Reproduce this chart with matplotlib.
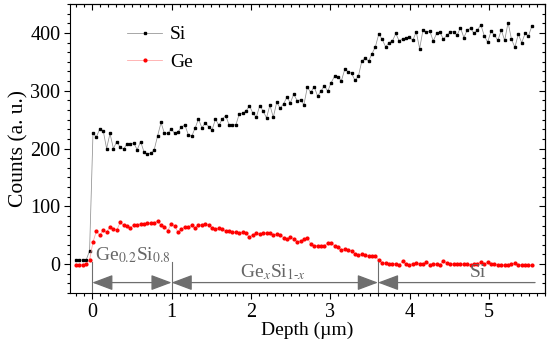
import numpy as np
import matplotlib.pyplot as plt
from matplotlib.ticker import MultipleLocator

plt.rcParams['font.family'] = ['Liberation Serif', 'DejaVu Serif']
plt.rcParams['mathtext.fontset'] = 'stix'

# depth profile, regular sampling of the measurement
depth = np.linspace(-0.205, 5.54, 135)

si_counts = [7, 7, 7, 7, 23,
             226, 220, 234, 231, 200, 226, 200, 212, 202, 199, 208, 208, 209, 198, 212, 194,
             190, 192, 198, 222, 245, 226, 226, 234, 226, 229, 237, 241, 224, 221, 235, 251,
             236, 244, 238, 232, 251, 240, 251, 257, 241, 241, 241, 260, 261, 265, 274, 261,
             254, 274, 265, 253, 275, 254, 280, 270, 277, 289, 279, 294, 283, 284, 276, 306,
             297, 307, 291, 299, 309, 299, 314, 325, 324, 317, 337, 333, 330, 318, 325, 351,
             357, 351, 364, 376, 398, 389, 376, 383, 386, 399, 386, 390, 391, 393, 387, 402,
             373, 405, 402, 403, 386, 399, 401, 389, 396, 402, 402, 396, 409, 392, 405, 408,
             399, 405, 414, 395, 384, 403, 396, 387, 405, 387, 418, 389, 375, 398, 383, 399,
             395, 412]

ge_counts = [-1, -1, -1, 0, 7,
             38, 57, 50, 59, 55, 65, 61, 59, 72, 67, 66, 63, 68, 68, 70, 70, 71, 71, 71, 75,
             67, 65, 58, 70, 66, 55, 60, 65, 65, 67, 62, 68, 68, 70, 67, 63, 61, 62, 60, 57,
             58, 55, 55, 53, 56, 53, 47, 51, 53, 52, 54, 54, 53, 50, 52, 50, 46, 43, 47, 44,
             39, 40, 43, 46,
             34.5, 32, 32, 32, 31, 37, 36, 32, 29, 24, 26.5, 24, 23, 18, 16, 17, 15, 14, 14, 14,
             7, 2, 2, 1, 1, 1, -2, 5, 0, -1, 1, 2, 1, 0, 3.5, -1, 1, 0, -1, 6, 2, 1, 0,
             0, 0, 0, 0, -1, 0, 1, 3.5, 0, 3.5, 0, 0, -1, -2, -1, -1, 0, 2, -1, -1, -2, -2, -2]

# layer boundaries (um) and their labels
boundaries = [0, 1, 3.6]
scan_end = 5.58
layer_labels = ['Ge$_{0.2}$Si$_{0.8}$', 'Ge$_x$Si$_{1\u2010x}$', 'Si']

fig = plt.figure(figsize=(5.5, 3.44), dpi=100)
ax = fig.add_axes([0.1273, 0.1483, 0.8636, 0.840])

ax.plot(depth, si_counts, '-', color='#909090', lw=0.55, marker='s', ms=1.8,
        mfc='black', mec='black', label='Si')
ax.plot(depth, ge_counts, '-', color='#ffa0a0', lw=0.55, marker='o', ms=2.0,
        mfc='red', mec='red', label='Ge')

ax.set_xlim(-0.28, 5.705)
ax.set_ylim(-50, 450)
ax.xaxis.set_major_locator(MultipleLocator(1))
ax.xaxis.set_minor_locator(MultipleLocator(0.1))
ax.yaxis.set_major_locator(MultipleLocator(100))
ax.yaxis.set_minor_locator(MultipleLocator(100 / 6))
ax.tick_params(which='both', direction='out', labelsize=14.5, width=0.8, pad=2.5)
ax.tick_params(which='major', length=4.5)
ax.tick_params(which='minor', length=2.5)

# mirrored ticks pointing inward on top and right
top = ax.secondary_xaxis('top')
top.xaxis.set_major_locator(MultipleLocator(1))
top.xaxis.set_minor_locator(MultipleLocator(0.1))
top.tick_params(which='both', direction='in', labeltop=False, width=0.8)
top.tick_params(which='major', length=4.5)
top.tick_params(which='minor', length=2.5)
right = ax.secondary_yaxis('right')
right.yaxis.set_major_locator(MultipleLocator(100))
right.yaxis.set_minor_locator(MultipleLocator(100 / 6))
right.tick_params(which='both', direction='in', labelright=False, width=0.8)
right.tick_params(which='major', length=4.5)
right.tick_params(which='minor', length=2.5)

ax.set_xlabel('Depth (\u00b5m)', fontsize=14, labelpad=0)
ax.set_ylabel('Counts (a. u.)', fontsize=15.5, labelpad=1)

ax.legend(loc='upper left', bbox_to_anchor=(0.12, 0.925), frameon=False, fontsize=14,
          handlelength=1.8, handletextpad=0.4, labelspacing=0.5,
          borderpad=0, borderaxespad=0)

# layer markers and spans
gray = '#6e6e6e'
for b in boundaries:
    ax.plot([b, b], [-50, 3], color=gray, lw=0.8)

arrow_y = -32
spans = [(boundaries[0], boundaries[1], '<|-|>'),
         (boundaries[1], boundaries[2], '<|-|>'),
         (boundaries[2], scan_end, '<|-')]
for x0, x1, style in spans:
    ax.annotate('', xy=(x1, arrow_y), xytext=(x0, arrow_y),
                arrowprops=dict(arrowstyle=style + ',head_length=0.8,head_width=0.3',
                                color=gray, lw=0.9, shrinkA=0, shrinkB=0,
                                mutation_scale=16))

ax.text(0.04, 6, layer_labels[0], color='#666666', fontsize=14, ha='left', va='baseline')
ax.text(2.28, -22, layer_labels[1], color='#666666', fontsize=14, ha='center', va='baseline')
ax.text(4.86, -22, layer_labels[2], color='#666666', fontsize=14, ha='center', va='baseline')

fig.savefig('out.png', dpi=100)
